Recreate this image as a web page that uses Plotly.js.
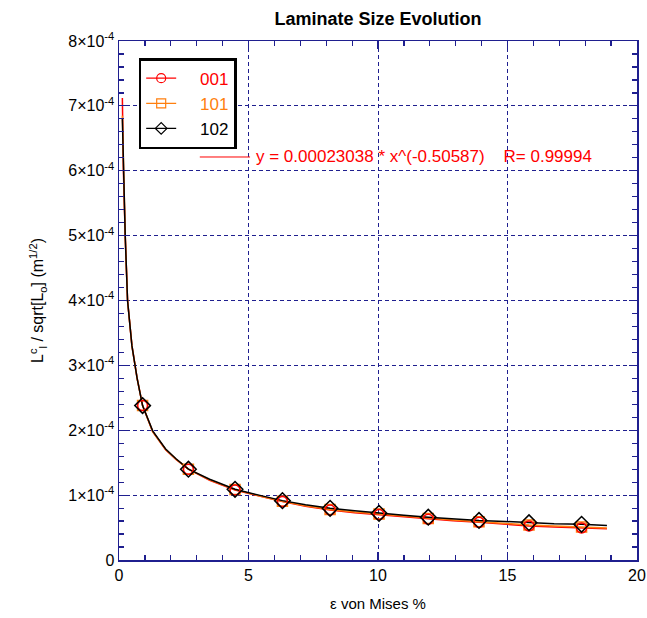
<!DOCTYPE html>
<html>
<head>
<meta charset="utf-8">
<script src="https://cdn.plot.ly/plotly-3.0.1.min.js"></script>
<style>html,body{margin:0;padding:0;background:#fff;}#chart{width:647px;height:618px;}</style>
</head>
<body>
<div id="chart"></div>
<script>
// strain values along the curves (ε von Mises %)
const strainX = [0.13, 0.17, 0.24, 0.33, 0.5, 0.7, 0.91, 1.3, 1.8, 2.2, 2.68, 3.5, 4.48, 5.4, 6.31, 7.2, 8.15, 9.1, 10.04, 11.0, 11.94, 12.9, 13.9, 14.9, 15.83, 16.8, 17.86, 18.84];
// series values (units of 1e-4 m^1/2)
const s001 = [7.12, 6.0, 5.0, 4.0, 3.3, 2.8, 2.38, 1.98, 1.70, 1.55, 1.40, 1.23, 1.08, 0.985, 0.90, 0.83, 0.77, 0.73, 0.70, 0.66, 0.63, 0.605, 0.58, 0.55, 0.525, 0.51, 0.495, 0.48];
const s101 = [6.85, 5.98, 5.0, 4.0, 3.3, 2.8, 2.38, 1.98, 1.705, 1.555, 1.40, 1.235, 1.085, 0.99, 0.905, 0.835, 0.78, 0.74, 0.71, 0.67, 0.64, 0.615, 0.59, 0.56, 0.54, 0.525, 0.51, 0.495];
const s102 = [6.8, 5.95, 5.0, 4.0, 3.3, 2.8, 2.38, 1.99, 1.71, 1.56, 1.40, 1.245, 1.09, 1.0, 0.915, 0.85, 0.797, 0.76, 0.72, 0.69, 0.66, 0.635, 0.61, 0.595, 0.575, 0.56, 0.55, 0.53];
// indices of the points that carry markers
const markerIdx = [6, 10, 12, 14, 16, 18, 20, 22, 24, 26];
const seriesNames = ['001', '101', '102'];
const yTickVals = [0, 1, 2, 3, 4, 5, 6, 7, 8];
const yTickText = ['0', '1×10<sup>-4</sup>', '2×10<sup>-4</sup>', '3×10<sup>-4</sup>', '4×10<sup>-4</sup>', '5×10<sup>-4</sup>', '6×10<sup>-4</sup>', '7×10<sup>-4</sup>', '8×10<sup>-4</sup>'];
const fitText = 'y = 0.00023038 * x^(-0.50587)    R= 0.99994';

const scale = v => v * 1e-4;
const allSeries = [s001, s101, s102];
const colors = ['#ff0000', '#ff7f0e', '#000000'];
const symbols = ['circle-open', 'square-open', 'diamond-open'];
const sizes = [10, 10, 12];

const traces = [];
// lines
allSeries.forEach((s, i) => {
  traces.push({
    x: strainX, y: s.map(scale), mode: 'lines', type: 'scatter',
    line: {color: colors[i], width: 1.5}, showlegend: false, hoverinfo: 'skip'
  });
});
// markers
[1, 0, 2].forEach(i => {
  traces.push({
    x: markerIdx.map(k => strainX[k]), y: markerIdx.map(k => scale(allSeries[i][k])),
    mode: 'markers', type: 'scatter',
    marker: {symbol: symbols[i], size: sizes[i], color: colors[i], line: {width: 1.5, color: colors[i]}},
    showlegend: false
  });
});
// legend entries
allSeries.forEach((s, i) => {
  traces.push({
    x: [null], y: [null], mode: 'lines+markers', type: 'scatter',
    name: '<span style="color:' + colors[i] + '">&nbsp;&nbsp;&nbsp;&nbsp;' + seriesNames[i] + '</span>',
    line: {color: colors[i], width: 1.2},
    marker: {symbol: symbols[i], size: 9, color: colors[i], line: {width: 1.2, color: colors[i]}}
  });
});

const axisColor = '#1f1f8f';
const font = 'Liberation Sans, Arial, Helvetica, sans-serif';

const layout = {
  width: 647, height: 618,
  margin: {l: 119, r: 10, t: 41, b: 58},
  paper_bgcolor: '#ffffff', plot_bgcolor: '#ffffff',
  font: {family: font, size: 16, color: '#000'},
  title: {text: '<b>Laminate Size Evolution</b>', x: 0.5, xref: 'paper', y: 0.97, yref: 'container', yanchor: 'middle', font: {family: font, size: 18, color: '#000'}},
  xaxis: {
    range: [0, 20], tickvals: [0, 5, 10, 15, 20], ticktext: ['0', '5', '10', '15', '20'],
    ticks: 'inside', ticklen: 8, tickcolor: axisColor, tickwidth: 1.2,
    showline: true, linecolor: axisColor, linewidth: 1.5, mirror: 'ticks',
    showgrid: true, gridcolor: axisColor, gridwidth: 1, griddash: '4px,3px',
    zeroline: false,
    minor: {dtick: 1, ticks: 'inside', ticklen: 5, tickcolor: axisColor, showgrid: false},
    tickfont: {size: 16}, title: {text: 'ε von Mises %', font: {size: 15}, standoff: 16}
  },
  yaxis: {
    range: [0, 8e-4], tickvals: yTickVals.map(scale), ticktext: yTickText,
    ticks: 'inside', ticklen: 8, tickcolor: axisColor, tickwidth: 1.2,
    showline: true, linecolor: axisColor, linewidth: 1.5, mirror: 'ticks',
    showgrid: true, gridcolor: axisColor, gridwidth: 1, griddash: '4px,3px',
    zeroline: false,
    minor: {dtick: 0.2e-4, ticks: 'inside', ticklen: 5, tickcolor: axisColor, showgrid: false},
    tickfont: {size: 16},
    title: {text: 'L<sup>c</sup><sub>l</sub> / sqrt[L<sub>o</sub>] (m<sup>1/2</sup>)', font: {size: 16}, standoff: 20}
  },
  legend: {
    x: 0.038, y: 0.967, xanchor: 'left', yanchor: 'top',
    bgcolor: '#ffffff', bordercolor: '#000', borderwidth: 2.5,
    font: {size: 17, family: font}, tracegroupgap: 0, itemwidth: 30
  },
  shapes: [{type: 'line', xref: 'paper', yref: 'paper', x0: 0.156, x1: 0.253, y0: 0.7765, y1: 0.7765, line: {color: '#ff0000', width: 1}}],
  annotations: [{xref: 'paper', yref: 'paper', x: 0.26, y: 0.7765, xanchor: 'left', yanchor: 'middle', showarrow: false,
    text: fitText.replace(/ {2,}/g, m => '&nbsp;'.repeat(m.length)), font: {size: 17, color: '#ff0000', family: font}}]
};

Plotly.newPlot('chart', traces, layout, {staticPlot: true, displayModeBar: false});
</script>
</body>
</html>
